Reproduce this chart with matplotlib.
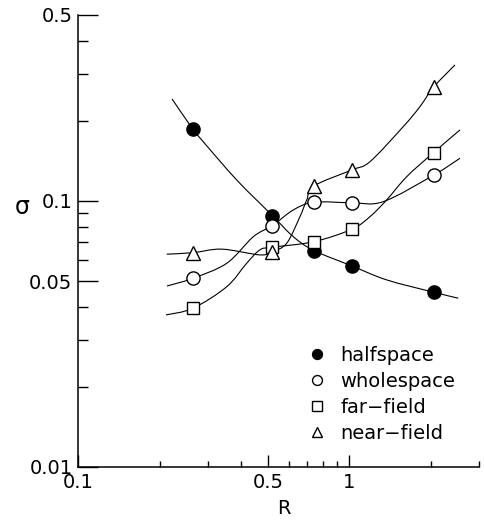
import numpy as np
import matplotlib
matplotlib.use('Agg')
import matplotlib.pyplot as plt
import matplotlib.ticker as ticker
from matplotlib.path import Path
from matplotlib.patches import PathPatch

# marker positions
r = [0.265, 0.52, 0.74, 1.02, 2.04]
halfspace = [0.186, 0.0881, 0.0651, 0.0570, 0.0454]
wholespace = [0.0512, 0.0808, 0.0989, 0.0985, 0.125]
farfield = [0.0395, 0.0670, 0.0703, 0.0783, 0.152]
nearfield = [0.0639, 0.0645, 0.1139, 0.1308, 0.2676]

# extra points (between / beyond the markers)
half_trace_r = [0.222, 0.2855, 0.384, 0.621, 1.371, 2.516]
half_trace_s = [0.2418, 0.1696, 0.120, 0.0734, 0.0505, 0.0431]
whole_trace_r = [0.2127, 0.353, 0.4424, 0.621, 1.332, 2.553]
whole_trace_s = [0.0479, 0.0583, 0.0734, 0.0925, 0.0994, 0.1447]
far_trace_r = [0.2109, 0.353, 0.418, 0.468, 1.19, 1.371, 1.625, 2.553]
far_trace_s = [0.0373, 0.0476, 0.0583, 0.0655, 0.0873, 0.1009, 0.1234, 0.1849]
near_trace_r = [0.2122, 0.3383, 0.468, 0.587, 0.657, 0.696, 1.19, 1.578, 1.818, 2.447]
near_trace_s = [0.0631, 0.0659, 0.0627, 0.0693, 0.0873, 0.1009, 0.1405, 0.1903, 0.2262, 0.3246]

labels = ['halfspace', 'wholespace', 'far\u2212field', 'near\u2212field']
x_major = [0.1, 0.5, 1]
x_minor = [0.2, 0.3, 0.4, 0.6, 0.7, 0.8, 0.9, 2, 3]
y_major = [0.01, 0.05, 0.1, 0.5]
y_minor = [0.02, 0.03, 0.04, 0.06, 0.07, 0.08, 0.09, 0.2, 0.3, 0.4]


def smooth_path(xm, ym, xt, yt):
    """Bezier path through the points (Catmull-Rom handles in log-log space)."""
    xs = np.concatenate([xm, xt])
    ys = np.concatenate([ym, yt])
    order = np.argsort(xs)
    p = np.column_stack([np.log10(xs[order]), np.log10(ys[order])])
    p_ext = np.vstack([p[0], p, p[-1]])
    verts = [p[0]]
    codes = [Path.MOVETO]
    for i in range(len(p) - 1):
        p0, p1, p2, p3 = p_ext[i], p_ext[i + 1], p_ext[i + 2], p_ext[i + 3]
        verts += [p1 + (p2 - p0) / 6, p2 - (p3 - p1) / 6, p2]
        codes += [Path.CURVE4] * 3
    return Path(10 ** np.array(verts), codes)


def main():
    plt.rcParams['font.family'] = ['DejaVu Sans']
    fig = plt.figure(figsize=(4.85, 5.26), dpi=100)
    ax = fig.add_axes([78 / 485, 1 - 467 / 526, 401 / 485, 452 / 526])

    series = [
        (halfspace, half_trace_r, half_trace_s, 'o', 'black'),
        (wholespace, whole_trace_r, whole_trace_s, 'o', 'white'),
        (farfield, far_trace_r, far_trace_s, 's', 'white'),
        (nearfield, near_trace_r, near_trace_s, '^', 'white'),
    ]
    handles = []
    for (vals, tr, ts, mk, fc), lab in zip(series, labels):
        ax.add_patch(PathPatch(smooth_path(r, vals, tr, ts), facecolor='none',
                               edgecolor='black', lw=0.8, zorder=2))
        h, = ax.plot(r, vals, linestyle='none', marker=mk, markersize=9.5 if mk != 's' else 9,
                     markerfacecolor=fc, markeredgecolor='black', markeredgewidth=1.0,
                     zorder=3, label=lab)
        handles.append(h)

    ax.set_xscale('log')
    ax.set_yscale('log')
    ax.set_xlim(0.1, 3)
    ax.set_ylim(0.01, 0.5)

    ax.xaxis.set_major_locator(ticker.FixedLocator(x_major))
    ax.xaxis.set_minor_locator(ticker.FixedLocator(x_minor))
    ax.xaxis.set_major_formatter(ticker.FixedFormatter(['0.1', '0.5', '1']))
    ax.xaxis.set_minor_formatter(ticker.NullFormatter())
    ax.yaxis.set_major_locator(ticker.FixedLocator(y_major))
    ax.yaxis.set_minor_locator(ticker.FixedLocator(y_minor))
    ax.yaxis.set_major_formatter(ticker.FixedFormatter(['0.01', '0.05', '0.1', '0.5']))
    ax.yaxis.set_minor_formatter(ticker.NullFormatter())

    for s in ['top', 'right']:
        ax.spines[s].set_visible(False)
    for s in ['left', 'bottom']:
        ax.spines[s].set_linewidth(1.1)

    ax.tick_params(axis='both', which='both', direction='in', width=1.0, labelsize=14)
    ax.tick_params(axis='x', which='major', length=8.5, pad=4)
    ax.tick_params(axis='x', which='minor', length=4.5)
    ax.tick_params(axis='y', which='major', length=14.5, pad=4)
    ax.tick_params(axis='y', which='minor', length=7.5)

    ax.set_xlabel('R', fontsize=14)
    ax.xaxis.set_label_coords((284 - 78) / 401, (467 - 508) / 452)
    ax.xaxis.label.set_va('center')
    ax.set_ylabel('\u03c3', fontsize=17, rotation=0, va='center', ha='center')
    ax.yaxis.set_label_coords((22 - 78) / 401, (467 - 207) / 452)

    ax.legend(handles=handles, loc='upper left', frameon=False, fontsize=14,
              markerscale=0.75, handlelength=1.0, handletextpad=0.7,
              labelspacing=0.36, borderpad=0, borderaxespad=0,
              bbox_to_anchor=((307 - 78) / 401, (467 - 346) / 452))

    fig.savefig('out.png', dpi=100)


if __name__ == '__main__':
    main()
